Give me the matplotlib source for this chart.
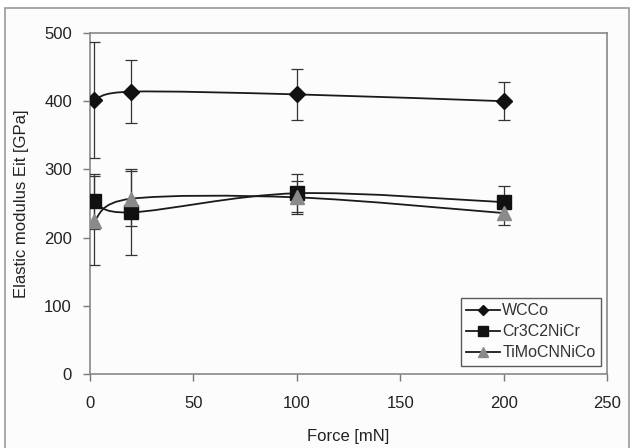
import matplotlib
matplotlib.use("Agg")
import numpy as np
import matplotlib.pyplot as plt
from matplotlib.path import Path
from matplotlib.patches import PathPatch, Rectangle
from matplotlib.lines import Line2D

plt.rcParams['font.family'] = ['Liberation Sans', 'DejaVu Sans']

# %% data
force = [2, 20, 100, 200]
wcco = [402, 414, 410, 400]
wcco_err = [85, 46, 37, 28]
cr3c2 = [253, 237, 265, 252]
cr3c2_err = [40, 63, 28, 23]
timo = [225, 257, 259, 236]
timo_err = [65, 40, 24, 17]

series = [
    ("WCCo", wcco, wcco_err, "D", "#111111", 8),
    ("Cr3C2NiCr", cr3c2, cr3c2_err, "s", "#111111", 10),
    ("TiMoCNNiCo", timo, timo_err, "^", "#8a8a8a", 10),
]


def smooth_path(x, y):
    # Excel-style smoothed line: Catmull-Rom segments as cubic Beziers
    p = np.column_stack([x, y]).astype(float)
    pts = [p[0]]
    codes = [Path.MOVETO]
    n = len(p)
    for i in range(n - 1):
        p0 = p[i - 1] if i > 0 else p[i]
        p3 = p[i + 2] if i + 2 < n else p[i + 1]
        c1 = p[i] + (p[i + 1] - p0) / 6
        c2 = p[i + 1] - (p3 - p[i]) / 6
        pts += [c1, c2, p[i + 1]]
        codes += [Path.CURVE4] * 3
    return Path(pts, codes)


fig = plt.figure(figsize=(6.32, 4.48), dpi=100, facecolor="white")

# outer border of the whole chart (runs off the bottom edge)
fig.patches.append(Rectangle((5 / 632, -0.02), 624 / 632, 1.02 - 8 / 448,
                             transform=fig.transFigure, facecolor="#fcfcfc",
                             edgecolor="#999999", lw=1.2, zorder=-10))

ax = fig.add_axes([90 / 632, 74 / 448, 517 / 632, 341 / 448])
ax.set_facecolor("#fcfcfc")

handles = []
for name, vals, err, mk, col, ms in series:
    ax.add_patch(PathPatch(smooth_path(force, vals), fill=False,
                           edgecolor="#1a1a1a", lw=1.3, zorder=2))
    ax.errorbar(force, vals, yerr=err, fmt="none", ecolor="#333333",
                elinewidth=0.9, capsize=4.5, capthick=0.9, zorder=3)
    ax.plot(force, vals, linestyle="none", marker=mk, ms=ms,
            mfc=col, mec=col, zorder=4)
    handles.append(Line2D([], [], color="#1a1a1a", lw=1.3, marker=mk,
                          ms=ms * 0.65, mfc=col, mec=col, label=name))

ax.set_xlim(0, 250)
ax.set_ylim(0, 500)
ax.set_xticks(range(0, 251, 50))
ax.set_yticks(range(0, 501, 100))
ax.tick_params(axis="both", labelsize=12, color="#777777", length=5,
               width=1, labelcolor="#222222")
ax.tick_params(axis="x", pad=11)
ax.tick_params(axis="y", pad=8)
for s in ax.spines.values():
    s.set_color("#888888")
    s.set_linewidth(1.2)

ax.set_xlabel("Force [mN]", fontsize=12, color="#222222", labelpad=13)
ax.set_ylabel("Elastic modulus Eit [GPa]", fontsize=12, color="#222222",
              labelpad=11)

leg = ax.legend(handles=handles, loc="lower right", fontsize=11.5,
                frameon=True, fancybox=False, edgecolor="#333333",
                handlelength=2.1, handletextpad=0.15, borderpad=0.35,
                labelspacing=0.38, borderaxespad=0,
                bbox_to_anchor=(511 / 517, 8 / 341))
leg.get_frame().set_linewidth(1.0)
leg.get_frame().set_facecolor("#fcfcfc")
for t in leg.get_texts():
    t.set_color("#333333")

fig.savefig("out.png", dpi=100, facecolor=fig.get_facecolor())
